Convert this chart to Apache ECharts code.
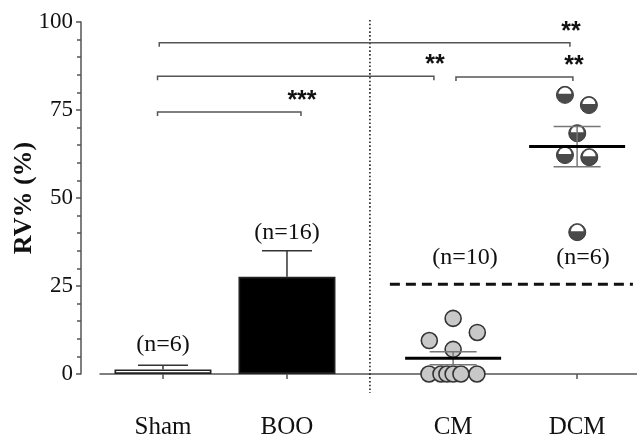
<!DOCTYPE html>
<html><head><meta charset="utf-8">
<script src="https://cdn.jsdelivr.net/npm/echarts@6/dist/echarts.min.js"></script>
<style>html,body{margin:0;padding:0;background:#fff}#c{width:637px;height:440px}</style>
</head><body><div id="c"></div>
<script>
const categories = ['Sham', 'BOO', 'CM', 'DCM'];
const categoryX = [1, 2, 3.34, 4.34];
const barMeans = [1.3, 27.6];
const barSems = [1.2, 7.4];
const cmX = [3.34, 3.535, 3.148, 3.34, 3.145, 3.242, 3.29, 3.34, 3.403, 3.532];
const cmY = [15.8, 11.8, 9.5, 7.0, 0, 0, 0, 0, 0, 0];
const dcmX = [4.242, 4.435, 4.341, 4.242, 4.438, 4.341];
const dcmY = [79.3, 76.4, 68.4, 62.2, 61.6, 40.3];
const scatterMeans = [4.45, 64.6];
const scatterSems = [1.85, 5.7];
const nLabels = ['(n=6)', '(n=16)', '(n=10)', '(n=6)'];
const nLabelX = [1.0, 2.0, 3.435, 4.387];
const nLabelY = [8.2, 40, 33, 33];
const bracketX1 = [0.956, 0.956, 3.363, 0.970];
const bracketX2 = [2.113, 3.185, 4.306, 4.282];
const bracketY = [74.4, 84.6, 84.4, 94.1];
const bracketText = ['***', '**', '**', '**'];
const dividerX = 2.669;
const dividerY = [100.6, -5.4];
const thresholdY = 25.5;
const thresholdX = [2.83, 4.79];

const serif = 'Liberation Serif';
const axisColor = '#555';

const chart = echarts.init(document.getElementById('c'), null, { renderer: 'canvas' });

const barData = barMeans.map((m, i) => ({
  value: [categoryX[i], m],
  itemStyle: { color: i === 0 ? '#fff' : '#000', borderColor: '#222', borderWidth: 1.7 }
}));

const option = {
  animation: false,
  backgroundColor: '#fff',
  grid: { left: 100, right: 0, top: 22, bottom: 66, containLabel: false, outerBoundsMode: 'none' },
  xAxis: {
    type: 'value', min: 0.492, max: 4.823, offset: 19,
    splitLine: { show: false },
    axisLine: { show: true, lineStyle: { color: axisColor, width: 1.5 } },
    axisTick: { show: true, customValues: categoryX, length: 5, lineStyle: { color: axisColor, width: 1.5 } },
    axisLabel: {
      customValues: categoryX, margin: 22,
      formatter: v => { const k = categoryX.findIndex(c => Math.abs(c - v) < 1e-6); return k >= 0 ? categories[k] : ''; },
      fontFamily: serif, fontSize: 25, color: '#111'
    }
  },
  yAxis: {
    type: 'value', min: 0, max: 100, interval: 25, offset: 19,
    name: 'RV% (%)', nameLocation: 'middle', nameGap: 44, nameMoveOverlap: false,
    nameTextStyle: { fontFamily: serif, fontWeight: 'bold', fontSize: 26, color: '#111' },
    splitLine: { show: false },
    axisLine: { show: true, lineStyle: { color: axisColor, width: 1.5 } },
    axisTick: { show: true, length: 5, lineStyle: { color: axisColor, width: 1.5 } },
    minorTick: { show: true, splitNumber: 5, length: 4, lineStyle: { color: axisColor, width: 1.5 } },
    axisLabel: { fontFamily: serif, fontSize: 23, color: '#111', margin: 8 }
  },
  series: [
    {
      type: 'custom', silent: true, z: 1,
      data: [[dividerX, dividerY[0], dividerY[1]]],
      renderItem: (p, api) => {
        const a = api.coord([api.value(0), api.value(1)]);
        const b = api.coord([api.value(0), api.value(2)]);
        return { type: 'line', shape: { x1: a[0], y1: a[1], x2: b[0], y2: b[1] },
          style: { stroke: '#222', lineWidth: 1.6, lineDash: [1.6, 2.2] } };
      },
      clip: false
    },
    {
      type: 'custom', silent: true, z: 1,
      data: [[thresholdX[0], thresholdX[1], thresholdY]],
      renderItem: (p, api) => {
        const a = api.coord([api.value(0), api.value(2)]);
        const b = api.coord([api.value(1), api.value(2)]);
        return { type: 'line', shape: { x1: a[0], y1: a[1], x2: b[0], y2: b[1] },
          style: { stroke: '#111', lineWidth: 3, lineDash: [10, 6] } };
      },
      clip: false
    },
    {
      type: 'bar', barWidth: 97, data: barData, clip: false, z: 2
    },
    {
      type: 'custom', silent: true, z: 3,
      data: barMeans.map((m, i) => [categoryX[i], m, barSems[i]]),
      renderItem: (p, api) => {
        const x = api.value(0), m = api.value(1), s = api.value(2);
        const base = api.coord([x, m]);
        const top = api.coord([x, m + s]);
        const st = { stroke: '#333', lineWidth: 1.5 };
        return { type: 'group', children: [
          { type: 'line', shape: { x1: top[0], y1: base[1], x2: top[0], y2: top[1] }, style: st },
          { type: 'line', shape: { x1: top[0] - 25, y1: top[1], x2: top[0] + 25, y2: top[1] }, style: st }
        ] };
      },
      clip: false
    },
    {
      type: 'scatter', symbol: 'circle', symbolSize: 16, z: 4,
      data: cmX.map((x, i) => [x, cmY[i]]),
      itemStyle: { color: '#c8c8c8', borderColor: '#333', borderWidth: 1.6, opacity: 1 },
      clip: false
    },
    {
      type: 'custom', silent: true, z: 4,
      data: dcmX.map((x, i) => [x, dcmY[i]]),
      renderItem: (p, api) => {
        const c = api.coord([api.value(0), api.value(1)]);
        return { type: 'group', children: [
          { type: 'circle', shape: { cx: c[0], cy: c[1], r: 8.5 }, style: { fill: '#4a4a4a', stroke: '#3a3a3a', lineWidth: 1 } },
          { type: 'sector', shape: { cx: c[0], cy: c[1] - 1, r0: 0, r: 6.3, startAngle: Math.PI, endAngle: 2 * Math.PI, clockwise: true }, style: { fill: '#fff' } }
        ] };
      },
      clip: false
    },
    {
      type: 'custom', silent: true, z: 5,
      data: scatterMeans.map((m, i) => [categoryX[i + 2], m, scatterSems[i]]),
      renderItem: (p, api) => {
        const x = api.value(0), m = api.value(1), s = api.value(2);
        const mid = api.coord([x, m]);
        const hi = api.coord([x, m + s]);
        const lo = api.coord([x, m - s]);
        const sg = { stroke: '#777', lineWidth: 1.5 };
        return { type: 'group', children: [
          { type: 'line', shape: { x1: mid[0], y1: lo[1], x2: mid[0], y2: hi[1] }, style: sg },
          { type: 'line', shape: { x1: mid[0] - 23.5, y1: hi[1], x2: mid[0] + 23.5, y2: hi[1] }, style: sg },
          { type: 'line', shape: { x1: mid[0] - 23.5, y1: lo[1], x2: mid[0] + 23.5, y2: lo[1] }, style: sg },
          { type: 'line', shape: { x1: mid[0] - 48, y1: mid[1], x2: mid[0] + 48, y2: mid[1] }, style: { stroke: '#000', lineWidth: 3 } }
        ] };
      },
      clip: false
    },
    {
      type: 'custom', silent: true, z: 5,
      data: bracketX1.map((x, i) => [x, bracketX2[i], bracketY[i], i]),
      renderItem: (p, api) => {
        const a = api.coord([api.value(0), api.value(2)]);
        const b = api.coord([api.value(1), api.value(2)]);
        const txt = bracketText[api.value(3)];
        return { type: 'group', children: [
          { type: 'polyline', shape: { points: [[a[0], a[1] + 4], a, b, [b[0], b[1] + 4]] },
            style: { stroke: '#555', lineWidth: 1.5, fill: null } },
          { type: 'text', x: b[0] + 1, y: b[1] - 11,
            style: { text: txt, fontFamily: 'Liberation Sans', fontWeight: 'bold', fontSize: 25, fill: '#111', align: 'center', verticalAlign: 'middle' } }
        ] };
      },
      clip: false
    },
    {
      type: 'scatter', symbolSize: 0, z: 6, silent: true,
      data: nLabelX.map((x, i) => [x, nLabelY[i]]),
      itemStyle: { opacity: 1 },
      label: {
        show: true, position: 'inside',
        formatter: p => nLabels[p.dataIndex],
        fontFamily: serif, fontSize: 24, color: '#111'
      },
      clip: false
    }
  ]
};
chart.setOption(option);
</script>
</body></html>
